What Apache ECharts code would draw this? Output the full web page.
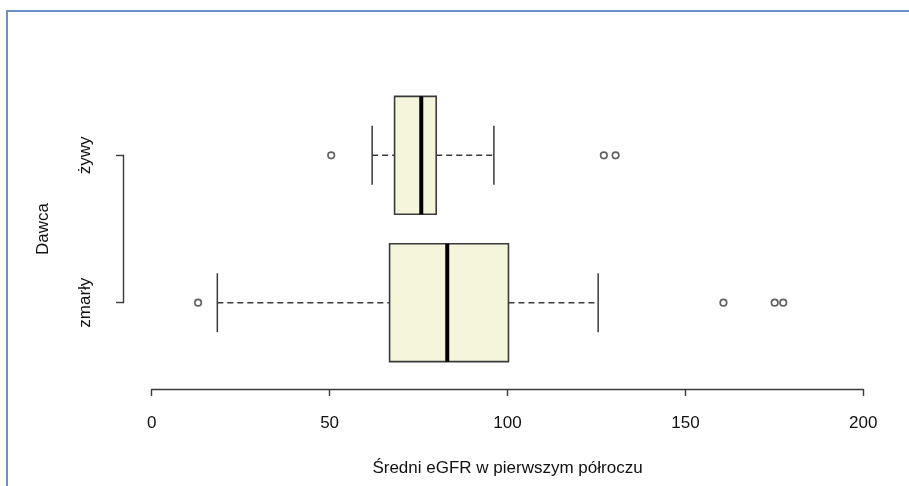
<!DOCTYPE html>
<html>
<head>
<meta charset="utf-8">
<script src="https://cdn.jsdelivr.net/npm/echarts@6/dist/echarts.min.js"></script>
<style>
html,body{margin:0;padding:0;background:#fff;}
#frame{position:absolute;left:6px;top:10px;width:1000px;height:1000px;border-left:2px solid #6890cb;border-top:2px solid #6890cb;}
#chart{position:absolute;left:0;top:0;width:909px;height:486px;}
</style>
</head>
<body>
<div id="frame"></div>
<div id="chart"></div>
<script>
// ---- data ----
const categories = ['zmarły', 'żywy'];
const whiskerLow  = [18.5, 62.0];
const q1          = [66.9, 68.3];
const median      = [83.1, 75.8];
const q3          = [100.3, 80.0];
const whiskerHigh = [125.5, 96.2];
const outliers    = [[13.1, 160.7, 175.1, 177.5], [50.5, 127.1, 130.4]];
const xTickMin = 0, xTickMax = 200, xTickStep = 50;
const xTitle = 'Średni eGFR w pierwszym półroczu';
const yTitle = 'Dawca';

// ---- build ----
const boxData = categories.map((c, i) => [i, whiskerLow[i], q1[i], median[i], q3[i], whiskerHigh[i]]);
const outlierData = [];
outliers.forEach((arr, i) => arr.forEach(v => outlierData.push([v, i])));

const FONT = "'Liberation Sans', Arial, sans-serif";
const LINE = '#3a3a3a';

const chart = echarts.init(document.getElementById('chart'), null, {renderer: 'canvas'});
chart.setOption({
  animation: false,
  backgroundColor: 'transparent',
  grid: [
    {left: 123, right: 17.2, top: 81.6, bottom: 109.6},            // data area
    {left: 151.7, right: 45.7, top: 300, bottom: 97},               // x axis display
    {left: 123, right: 17.2, top: 155.3, bottom: 183.3}             // y axis display
  ],
  xAxis: [
    {gridIndex: 0, type: 'value', min: -8, max: 208, show: false},
    {gridIndex: 1, type: 'value', min: xTickMin, max: xTickMax, interval: xTickStep,
     axisLine: {show: true, lineStyle: {color: LINE, width: 1.4}},
     axisTick: {show: true, length: 7, lineStyle: {color: LINE, width: 1.4}},
     axisLabel: {margin: 26, fontFamily: FONT, fontSize: 17, color: '#111'},
     splitLine: {show: false},
     name: xTitle, nameLocation: 'middle', nameGap: 71,
     nameTextStyle: {fontFamily: FONT, fontSize: 17, color: '#111'}},
    {gridIndex: 2, type: 'value', show: false}
  ],
  yAxis: [
    {gridIndex: 0, type: 'category', data: categories, show: false},
    {gridIndex: 1, type: 'value', show: false},
    {gridIndex: 2, type: 'category', data: categories, boundaryGap: false,
     axisLine: {show: true, lineStyle: {color: LINE, width: 1.4}},
     axisTick: {show: true, length: 7, alignWithLabel: true, lineStyle: {color: LINE, width: 1.4}},
     axisLabel: {rotate: 90, margin: 29, fontFamily: FONT, fontSize: 17, color: '#111'},
     splitLine: {show: false},
     name: yTitle, nameLocation: 'middle', nameGap: 71, nameRotate: 90,
     nameTextStyle: {fontFamily: FONT, fontSize: 17, color: '#111'}}
  ],
  series: [
    {
      type: 'custom',
      xAxisIndex: 0, yAxisIndex: 0,
      data: boxData,
      encode: {x: [1, 2, 3, 4, 5], y: 0},
      renderItem: function (params, api) {
        const ci = api.value(0);
        const band = api.size([0, 1])[1];
        const h = band * 0.8;
        const pLo = api.coord([api.value(1), ci]);
        const pA = api.coord([api.value(2), ci]);
        const pM = api.coord([api.value(3), ci]);
        const pB = api.coord([api.value(4), ci]);
        const pHi = api.coord([api.value(5), ci]);
        const y = pA[1];
        const dash = {stroke: LINE, lineWidth: 1.5, lineDash: [6, 4], fill: null};
        const solid = {stroke: LINE, lineWidth: 1.5, fill: null};
        return {
          type: 'group',
          children: [
            {type: 'line', shape: {x1: pLo[0], y1: y, x2: pA[0], y2: y}, style: dash},
            {type: 'line', shape: {x1: pB[0], y1: y, x2: pHi[0], y2: y}, style: dash},
            {type: 'line', shape: {x1: pLo[0], y1: y - h / 4, x2: pLo[0], y2: y + h / 4}, style: solid},
            {type: 'line', shape: {x1: pHi[0], y1: y - h / 4, x2: pHi[0], y2: y + h / 4}, style: solid},
            {type: 'rect', shape: {x: pA[0], y: y - h / 2, width: pB[0] - pA[0], height: h},
             style: {fill: '#f5f5dc', stroke: LINE, lineWidth: 1.6}},
            {type: 'line', shape: {x1: pM[0], y1: y - h / 2, x2: pM[0], y2: y + h / 2},
             style: {stroke: '#000', lineWidth: 4}}
          ]
        };
      }
    },
    {
      type: 'scatter',
      xAxisIndex: 0, yAxisIndex: 0,
      data: outlierData,
      symbol: 'circle', symbolSize: 6.5,
      itemStyle: {color: '#fff', borderColor: LINE, borderWidth: 1.7}
    }
  ]
});
</script>
</body>
</html>
